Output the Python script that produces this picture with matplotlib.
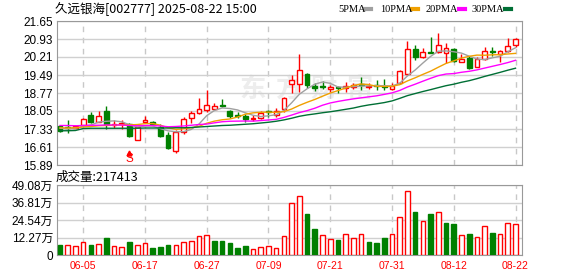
import matplotlib.pyplot as plt
from matplotlib.lines import Line2D
import numpy as np
import pandas as pd

dates = ['05-30', '06-03', '06-04', '06-05', '06-06', '06-09', '06-10', '06-11', '06-12', '06-13',
         '06-16', '06-17', '06-18', '06-19', '06-20', '06-23', '06-24', '06-25', '06-26', '06-27',
         '06-30', '07-01', '07-02', '07-03', '07-04', '07-07', '07-08', '07-09', '07-10', '07-11',
         '07-14', '07-15', '07-16', '07-17', '07-18', '07-21', '07-22', '07-23', '07-24', '07-25',
         '07-28', '07-29', '07-30', '07-31', '08-01', '08-04', '08-05', '08-06', '08-07', '08-08',
         '08-11', '08-12', '08-13', '08-14', '08-15', '08-18', '08-19', '08-20', '08-21', '08-22']

opens = [17.45, 17.40, 17.38, 17.50, 17.90, 17.62, 18.06, 17.50, 17.52, 17.52,
         16.90, 17.62, 17.61, 17.40, 17.10, 16.45, 17.22, 17.76, 17.98, 18.09,
         18.14, 18.30, 18.06, 17.88, 17.86, 17.72, 17.78, 18.04, 17.88, 18.14,
         19.12, 19.12, 19.53, 19.04, 19.05, 18.92, 19.00, 18.96, 19.00, 19.14,
         19.02, 19.08, 19.05, 18.93, 19.16, 19.53, 20.53, 20.22, 20.42, 20.40,
         20.36, 20.53, 20.02, 20.16, 19.82, 20.12, 20.43, 20.32, 20.46, 20.69]
highs = [17.48, 17.69, 17.50, 17.78, 18.01, 18.06, 18.25, 17.69, 17.67, 17.55,
         17.42, 17.85, 17.65, 17.52, 17.22, 17.28, 17.80, 18.05, 18.57, 18.90,
         18.36, 18.52, 18.09, 18.02, 17.92, 17.90, 18.03, 18.09, 18.18, 18.63,
         19.50, 20.34, 19.55, 19.16, 19.25, 19.08, 19.05, 19.22, 19.18, 19.40,
         19.16, 19.30, 19.33, 19.16, 19.70, 20.85, 20.67, 20.56, 21.00, 21.18,
         20.76, 20.58, 20.33, 20.25, 20.20, 20.62, 20.60, 20.50, 20.96, 20.96]
lows = [17.22, 17.18, 17.36, 17.45, 17.58, 17.60, 17.32, 17.37, 17.32, 17.00,
        16.88, 17.58, 17.45, 17.00, 16.55, 16.37, 17.13, 17.58, 17.92, 18.02,
        18.10, 18.20, 17.78, 17.76, 17.61, 17.66, 17.73, 17.80, 17.82, 18.02,
        18.78, 18.80, 18.98, 18.86, 18.92, 18.82, 18.76, 18.82, 18.95, 18.88,
        18.92, 18.88, 18.90, 18.90, 19.12, 19.49, 20.10, 20.18, 20.36, 20.36,
        19.96, 20.00, 20.00, 19.72, 19.80, 20.09, 20.26, 20.02, 20.42, 20.60]
closes = [17.27, 17.36, 17.46, 17.74, 17.62, 17.85, 17.52, 17.54, 17.56, 17.03,
          17.40, 17.70, 17.53, 17.06, 16.59, 17.22, 17.73, 17.96, 18.13, 18.28,
          18.25, 18.24, 17.85, 17.84, 17.71, 17.76, 17.98, 18.00, 18.06, 18.56,
          19.29, 19.69, 19.09, 18.98, 19.00, 19.02, 18.97, 19.03, 19.10, 19.11,
          19.06, 19.03, 19.01, 19.05, 19.65, 20.52, 20.22, 20.40, 20.38, 20.69,
          20.58, 20.05, 20.13, 19.76, 20.13, 20.46, 20.40, 20.45, 20.66, 20.93]
# volume in 万
volumes = [7.0, 7.0, 6.3, 8.9, 7.0, 7.7, 12.0, 6.2, 5.5, 9.1,
           7.0, 8.2, 5.0, 5.6, 7.0, 7.0, 9.1, 9.8, 13.3, 14.0,
           9.8, 9.8, 8.4, 5.0, 6.3, 4.1, 5.5, 6.3, 4.9, 13.3,
           36.2, 41.4, 28.7, 18.2, 13.8, 11.2, 10.5, 14.5, 11.7, 14.5,
           9.1, 8.4, 11.9, 14.5, 26.4, 44.9, 30.1, 23.8, 28.7, 30.1,
           22.4, 21.7, 13.8, 14.7, 12.4, 20.1, 15.4, 14.5, 22.2, 21.7413]

# moving average values before enough closes are available
ma5_head = [17.36, 17.34, 17.36, 17.44]
ma10_head = [17.38, 17.37, 17.38, 17.41, 17.43, 17.46, 17.47, 17.48, 17.50]
ma20_head = [17.47, 17.47, 17.46, 17.47, 17.48, 17.48, 17.49, 17.49, 17.49, 17.47,
             17.46, 17.47, 17.47, 17.45, 17.42, 17.43, 17.45, 17.48, 17.51]
ma30_head = [17.26, 17.26, 17.27, 17.35, 17.36, 17.36, 17.36, 17.36, 17.36, 17.36,
             17.36, 17.37, 17.37, 17.37, 17.37, 17.38, 17.38, 17.39, 17.41, 17.43,
             17.45, 17.47, 17.48, 17.50, 17.52, 17.54, 17.57, 17.60, 17.64]

price_ticks = [15.89, 16.61, 17.33, 18.05, 18.77, 19.49, 20.21, 20.93, 21.65]
vol_ticks = [0, 12.27, 24.54, 36.81, 49.08]
vol_labels = ['0', '12.27万', '24.54万', '36.81万', '49.08万']
date_labels = ['06-05', '06-17', '06-27', '07-09', '07-21', '07-31', '08-12', '08-22']
ma_names = ['5PMA', '10PMA', '20PMA', '30PMA']
ma_colors = ['#a0a0a0', '#f0a000', '#ff00ff', '#006f35']

RED = '#ff0000'
GREEN = '#008000'
W, H = 578, 276

o = np.array(opens); h = np.array(highs); l = np.array(lows); c = np.array(closes)
v = np.array(volumes)
x = np.arange(len(dates))
up = c >= o
vol_up = np.r_[c[0] >= o[0], c[1:] > c[:-1]]

s = pd.Series(closes)
mas = []
for n, head in zip([5, 10, 20, 30], [ma5_head, ma10_head, ma20_head, ma30_head]):
    m = s.rolling(n).mean().to_numpy()
    m[:n - 1] = head
    mas.append(m)

plt.rcParams['font.family'] = ['Liberation Sans', 'Noto Sans CJK SC']

fig = plt.figure(figsize=(W / 100, H / 100), dpi=100)
fig.patch.set_facecolor('white')


def px(xp, yp):
    return xp / W, 1 - yp / H


ax = fig.add_axes([57 / W, 1 - 165 / H, 465 / W, 144 / H])
vax = fig.add_axes([57 / W, 1 - 255 / H, 465 / W, 70 / H])
tick_idx = [dates.index(d) for d in date_labels]

for a in (ax, vax):
    a.set_xlim(-0.39, 59.84)
    a.set_xticks(tick_idx)
    a.grid(True, axis='x', linestyle=(0, (4, 4)), color='#c8c8c8', lw=1)
    a.grid(True, axis='y', linestyle='-', color='#d0d0d0', lw=1)
    a.set_axisbelow(True)
    a.tick_params(length=0, labelsize=8.5, pad=3)
    for sp in a.spines.values():
        sp.set_color('#999999')

ax.set_ylim(15.89, 21.65)
ax.set_yticks(price_ticks)
ax.set_yticklabels([f'{t:.2f}' for t in price_ticks])
ax.set_xticklabels([])

# watermark
for i, ch in enumerate('东方财富'):
    ax.text(23.2 + i * 4.6, 18.9, ch, fontsize=19, color='#ededed', family='Noto Sans CJK SC',
            fontweight='bold', ha='left', va='center', zorder=0.5)

# candles
ax.vlines(x, l, h, colors=np.where(up, RED, GREEN), lw=1, zorder=3)
bot = np.minimum(o, c)
bh = np.maximum(np.abs(c - o), 0.015)
ax.bar(x[up], bh[up], bottom=bot[up], width=0.62, facecolor='white', edgecolor=RED, lw=1, zorder=4)
ax.bar(x[~up], bh[~up], bottom=bot[~up], width=0.62, color=GREEN, edgecolor=GREEN, lw=1, zorder=4)

for m, col in zip(mas, ma_colors):
    ax.plot(x, m, color=col, lw=1, zorder=5)

# S marker
ax.plot(9, 16.36, marker='^', color=RED, ms=3.5, zorder=5)
ax.text(9, 16.11, 'S', color=RED, fontsize=8.5, ha='center', va='center', zorder=5)

# volume
vax.set_ylim(0, 49.08)
vax.set_yticks(vol_ticks)
vax.set_yticklabels(vol_labels)
vax.set_xticklabels(date_labels, color=RED, fontsize=7.5)
vax.tick_params(axis='x', pad=4)
vax.bar(x[vol_up], v[vol_up], width=0.6, facecolor='white', edgecolor=RED, lw=1, zorder=3)
vax.bar(x[~vol_up], v[~vol_up], width=0.6, color=GREEN, edgecolor=GREEN, lw=1, zorder=3)

# header texts
fig.text(*px(55, 9), '久远银海[002777] 2025-08-22 15:00', fontsize=9,
         family=['Noto Sans CJK SC'], va='center', ha='left')
fig.text(*px(56, 177), f'成交量:{round(volumes[-1] * 10000)}', fontsize=9,
         family=['Noto Sans CJK SC'], va='center', ha='left')

legend_x = [338, 380, 426, 472]
for name, col, lx in zip(ma_names, ma_colors, legend_x):
    t = fig.text(*px(lx, 9), name, fontsize=7.5, family='Liberation Serif', va='center', ha='left')
for col, dx in zip(ma_colors, [365, 412, 459, 505]):
    fig.add_artist(Line2D([dx / W, (dx + 6) / W], [1 - 9 / H, 1 - 9 / H], color=col, lw=3))

fig.savefig('out.png', dpi=100)
